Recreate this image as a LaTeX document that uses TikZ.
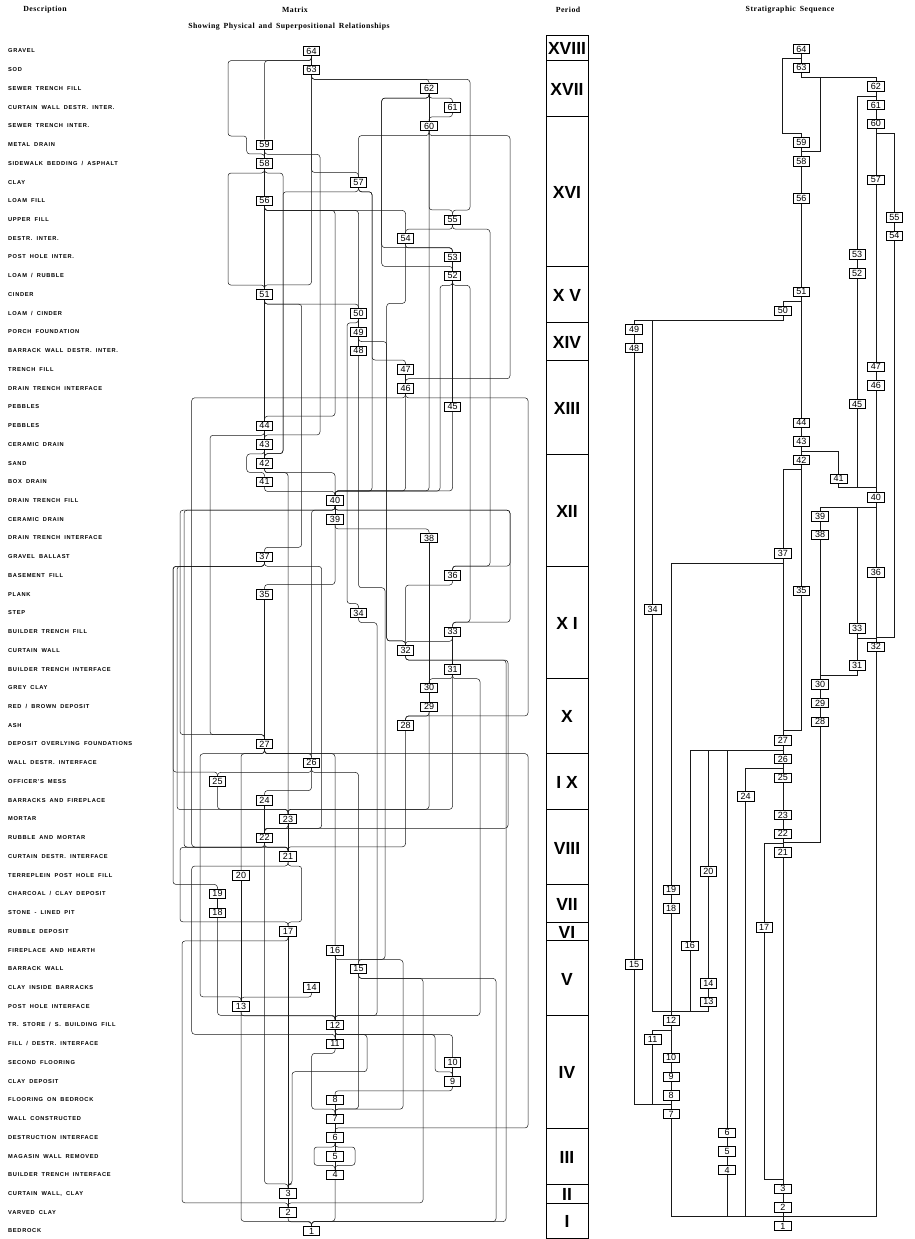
\documentclass[tikz,border=0pt]{standalone}
\usepackage{fontspec}
\setmainfont{Liberation Serif}
\newfontfamily\descfont[LetterSpace=12,WordSpace=1.8]{Liberation Sans}
\newfontfamily\numfont{Liberation Sans}
\newfontfamily\headfont[LetterSpace=6,WordSpace=2]{Liberation Serif}
\usetikzlibrary{backgrounds}

% row positions of the two panels
\def\rowm#1{(51+(64-#1)*18.73)}
\def\rows#1{(49+(64-#1)*18.683)}

% connectors: straight, into target column, down source column, via a lane, drop then lane, two lanes
\newcommand{\vedge}[3]{\draw[#1wire] (#1#2.south) -- (#1#3.north);}
\newcommand{\tedge}[3]{\draw[#1wire] (#1#2.south) -- ++(0,4.6) -| (#1#3.north);}
\newcommand{\sedge}[3]{\draw[#1wire] (#1#2.south) |- ([yshift=4.6pt]#1#3.north) -- (#1#3.north);}
\newcommand{\ledge}[4]{\draw[#1wire] (#1#2.south) -- ++(0,4.6) -| (#4,{\csname row#1\endcsname{#3}-9.4}) -| (#1#3.north);}
\newcommand{\kedge}[5]{\draw[#1wire] (#1#2.south) -- ++(0,#4) -| (#5,{\csname row#1\endcsname{#3}-9.4}) -| (#1#3.north);}
\newcommand{\jedge}[6]{\draw[#1wire] (#1#2.south) -- ++(0,4.6) -| (#4,#5) -| (#6,{\csname row#1\endcsname{#3}-9.4}) -| (#1#3.north);}

\begin{document}
\begin{tikzpicture}[
    x=1pt, y=-1pt,
    mwire/.style={line width=0.5pt, black!90, rounded corners=3pt},
    swire/.style={line width=0.55pt, black!90},
    mbox/.style={draw, line width=0.6pt, fill=white, minimum width=16.5pt, minimum height=9.5pt, inner sep=0pt, font=\numfont\fontsize{9}{9}\selectfont},
    desc/.style={anchor=west, inner sep=0pt, font=\descfont\bfseries\fontsize{5.7}{6}\selectfont},
    period/.style={inner sep=0pt, font=\numfont\bfseries\fontsize{17.5}{18}\selectfont},
    head/.style={inner sep=0pt, font=\headfont\bfseries\fontsize{7.8}{8}\selectfont}
]
    \useasboundingbox (0,0) rectangle (914,1239);

    % Headings
    \node[head] (hdesc) at (45,10) {Description};
    \node[head] (hmat) at (295,10) {Matrix};
    \node[head] (hsub) at (289,27) {Showing\enspace Physical\enspace and\enspace Superpositional\enspace Relationships};
    \node[head] (hper) at (568,10) {Period};
    \node[head] (hseq) at (790,10) {Stratigraphic\enspace Sequence};

    % Descriptions
    \foreach \n/\t in {64/{GRAVEL}, 63/{SOD}, 62/{SEWER TRENCH FILL}, 61/{CURTAIN WALL DESTR. INTER.},
        60/{SEWER TRENCH INTER.}, 59/{METAL DRAIN}, 58/{SIDEWALK BEDDING / ASPHALT}, 57/{CLAY},
        56/{LOAM FILL}, 55/{UPPER FILL}, 54/{DESTR. INTER.}, 53/{POST HOLE INTER.},
        52/{LOAM / RUBBLE}, 51/{CINDER}, 50/{LOAM / CINDER}, 49/{PORCH FOUNDATION},
        48/{BARRACK WALL DESTR. INTER.}, 47/{TRENCH FILL}, 46/{DRAIN TRENCH INTERFACE}, 45/{PEBBLES},
        44/{PEBBLES}, 43/{CERAMIC DRAIN}, 42/{SAND}, 41/{BOX DRAIN},
        40/{DRAIN TRENCH FILL}, 39/{CERAMIC DRAIN}, 38/{DRAIN TRENCH INTERFACE}, 37/{GRAVEL BALLAST},
        36/{BASEMENT FILL}, 35/{PLANK}, 34/{STEP}, 33/{BUILDER TRENCH FILL},
        32/{CURTAIN WALL}, 31/{BUILDER TRENCH INTERFACE}, 30/{GREY CLAY}, 29/{RED / BROWN DEPOSIT},
        28/{ASH}, 27/{DEPOSIT OVERLYING FOUNDATIONS}, 26/{WALL DESTR. INTERFACE}, 25/{OFFICER'S MESS},
        24/{BARRACKS AND FIREPLACE}, 23/{MORTAR}, 22/{RUBBLE AND MORTAR}, 21/{CURTAIN DESTR. INTERFACE},
        20/{TERREPLEIN POST HOLE FILL}, 19/{CHARCOAL / CLAY DEPOSIT}, 18/{STONE - LINED PIT}, 17/{RUBBLE DEPOSIT},
        16/{FIREPLACE AND HEARTH}, 15/{BARRACK WALL}, 14/{CLAY INSIDE BARRACKS}, 13/{POST HOLE INTERFACE},
        12/{TR. STORE / S. BUILDING FILL}, 11/{FILL / DESTR. INTERFACE}, 10/{SECOND FLOORING}, 9/{CLAY DEPOSIT},
        8/{FLOORING ON BEDROCK}, 7/{WALL CONSTRUCTED}, 6/{DESTRUCTION INTERFACE}, 5/{MAGASIN WALL REMOVED},
        4/{BUILDER TRENCH INTERFACE}, 3/{CURTAIN WALL, CLAY}, 2/{VARVED CLAY}, 1/{BEDROCK}}
        \node[desc] (d\n) at (8,{\rowm{\n}}) {\t};

    % Matrix boxes
    \foreach \n/\c in {64/4, 63/4, 62/9, 61/10, 60/9, 59/2, 58/2, 57/6, 56/2, 55/10, 54/8, 53/10, 52/10,
        51/2, 50/6, 49/6, 48/6, 47/8, 46/8, 45/10, 44/2, 43/2, 42/2, 41/2, 40/5, 39/5, 38/9, 37/2, 36/10,
        35/2, 34/6, 33/10, 32/8, 31/10, 30/9, 29/9, 28/8, 27/2, 26/4, 25/0, 24/2, 23/3, 22/2, 21/3, 20/1,
        19/0, 18/0, 17/3, 16/5, 15/6, 14/4, 13/1, 12/5, 11/5, 10/10, 9/10, 8/5, 7/5, 6/5, 5/5, 4/5, 3/3,
        2/3, 1/4}
        \node[mbox] (m\n) at ({217.5+23.5*\c},{\rowm{\n}}) {\n};

    % Sequence boxes
    \foreach \n/\c in {64/9, 63/9, 62/13, 61/13, 60/13, 59/9, 58/9, 57/13, 56/9, 55/14, 54/14, 53/12,
        52/12, 51/9, 50/8, 49/0, 48/0, 47/13, 46/13, 45/12, 44/9, 43/9, 42/9, 41/11, 40/13, 39/10, 38/10,
        37/8, 36/13, 35/9, 34/1, 33/12, 32/13, 31/12, 30/10, 29/10, 28/10, 27/8, 26/8, 25/8, 24/6, 23/8,
        22/8, 21/8, 20/4, 19/2, 18/2, 17/7, 16/3, 15/0, 14/4, 13/4, 12/2, 11/1, 10/2, 9/2, 8/2, 7/2, 6/5,
        5/5, 4/5, 3/8, 2/8, 1/8}
        \node[mbox] (s\n) at ({634+18.6*\c},{\rows{\n}}) {\n};

    % Period column
    \draw[line width=0.7pt] (546,35) rectangle (588,1238);
    \foreach \lab/\ya/\yb [count=\i] in {XVIII/35/60.4, XVII/60.4/116.6, XVI/116.6/266.4, {X V}/266.4/322.6,
        XIV/322.6/360, XIII/360/454, XII/454/566, {X I}/566/678, X/678/753, {I X}/753/809.5,
        VIII/809.5/884.5, VII/884.5/922, VI/922/940.6, V/940.6/1015.5, IV/1015.5/1128,
        III/1128/1184, II/1184/1203, I/1203/1238}
    {
        \draw[line width=0.6pt] (546,\yb) -- (588,\yb);
        \node[period] (per\i) at (567,{(\ya+\yb)/2+1}) {\lab};
    }

    \begin{scope}[on background layer]
    % Matrix connectors
    \vedge{m}{64}{63}
    \tedge{m}{64}{59}
    \jedge{m}{64}{58}{228}{136}{246.7}
    \tedge{m}{63}{62}
    \ledge{m}{63}{55}{470}
    \sedge{m}{63}{57}
    \sedge{m}{63}{51}
    \tedge{m}{62}{61}
    \vedge{m}{62}{60}
    \tedge{m}{61}{60}
    \ledge{m}{62}{53}{381.7}
    \ledge{m}{62}{52}{381.7}
    \tedge{m}{60}{57}
    \sedge{m}{60}{55}
    \ledge{m}{60}{46}{510}
    \sedge{m}{60}{40}
    \vedge{m}{59}{58}
    \ledge{m}{59}{43}{320}
    \vedge{m}{58}{56}
    \ledge{m}{58}{51}{228}
    \ledge{m}{58}{42}{283}
    \ledge{m}{57}{47}{372}
    \ledge{m}{57}{40}{372}
    \ledge{m}{57}{42}{283}
    \vedge{m}{56}{51}
    \tedge{m}{56}{54}
    \ledge{m}{56}{44}{335}
    \tedge{m}{56}{50}
    \tedge{m}{55}{54}
    \ledge{m}{55}{36}{490}
    \tedge{m}{54}{53}
    \kedge{m}{54}{32}{60}{386.7}
    \vedge{m}{53}{52}
    \vedge{m}{52}{45}
    \ledge{m}{52}{40}{440}
    \ledge{m}{52}{33}{470}
    \vedge{m}{51}{44}
    \tedge{m}{51}{50}
    \ledge{m}{51}{37}{301.7}
    \vedge{m}{50}{49}
    \ledge{m}{50}{34}{347}
    \vedge{m}{49}{48}
    \ledge{m}{49}{32}{386.7}
    \kedge{m}{48}{15}{232}{385}
    \vedge{m}{47}{46}
    \sedge{m}{46}{40}
    \ledge{m}{46}{21}{191.7}
    \ledge{m}{46}{28}{528}
    \sedge{m}{45}{40}
    \vedge{m}{44}{43}
    \ledge{m}{44}{27}{210}
    \vedge{m}{43}{42}
    \ledge{m}{43}{41}{246.7}
    \tedge{m}{42}{40}
    \tedge{m}{42}{23}
    \tedge{m}{41}{40}
    \vedge{m}{40}{39}
    \ledge{m}{40}{27}{180}
    \ledge{m}{40}{21}{184}
    \tedge{m}{40}{26}
    \ledge{m}{40}{36}{510}
    \ledge{m}{40}{33}{510}
    \tedge{m}{39}{38}
    \sedge{m}{39}{35}
    \vedge{m}{38}{30}
    \ledge{m}{37}{25}{173}
    \ledge{m}{37}{19}{173}
    \ledge{m}{37}{23}{177}
    \ledge{m}{37}{22}{321.7}
    \tedge{m}{36}{32}
    \vedge{m}{35}{27}
    \ledge{m}{34}{12}{377}
    \tedge{m}{33}{32}
    \vedge{m}{33}{31}
    \ledge{m}{32}{22}{508}
    \ledge{m}{32}{1}{506}
    \tedge{m}{31}{30}
    \sedge{m}{31}{23}
    \ledge{m}{31}{12}{480}
    \vedge{m}{30}{29}
    \tedge{m}{29}{28}
    \sedge{m}{29}{23}
    \sedge{m}{28}{21}
    \tedge{m}{27}{26}
    \ledge{m}{27}{13}{200}
    \tedge{m}{27}{20}
    \tedge{m}{27}{16}
    \ledge{m}{27}{6}{528}
    \tedge{m}{26}{25}
    \sedge{m}{26}{24}
    \tedge{m}{26}{15}
    \sedge{m}{25}{23}
    \vedge{m}{24}{22}
    \tedge{m}{23}{22}
    \vedge{m}{23}{21}
    \tedge{m}{22}{21}
    \ledge{m}{22}{17}{180}
    \sedge{m}{22}{3}
    \ledge{m}{21}{17}{301.7}
    \ledge{m}{21}{11}{191.7}
    \vedge{m}{20}{13}
    \vedge{m}{19}{18}
    \sedge{m}{18}{12}
    \vedge{m}{17}{3}
    \ledge{m}{17}{2}{182}
    \vedge{m}{16}{12}
    \ledge{m}{16}{7}{403}
    \sedge{m}{15}{7}
    \ledge{m}{15}{2}{423}
    \ledge{m}{15}{1}{496}
    \tedge{m}{14}{13}
    \tedge{m}{13}{12}
    \sedge{m}{13}{1}
    \vedge{m}{12}{11}
    \tedge{m}{12}{10}
    \ledge{m}{12}{9}{435}
    \jedge{m}{12}{3}{367}{1071.7}{292}
    \ledge{m}{11}{7}{311.7}
    \vedge{m}{10}{9}
    \tedge{m}{9}{8}
    \vedge{m}{8}{7}
    \vedge{m}{7}{6}
    \vedge{m}{6}{5}
    \ledge{m}{6}{4}{314}
    \ledge{m}{6}{4}{355}
    \vedge{m}{5}{4}
    \sedge{m}{4}{1}
    \vedge{m}{3}{2}
    \tedge{m}{2}{1}

    % Sequence connectors
    \vedge{s}{64}{63}
    \ledge{s}{64}{59}{782}
    \tedge{s}{63}{62}
    \ledge{s}{63}{58}{820}
    \vedge{s}{62}{61}
    \vedge{s}{61}{60}
    \tedge{s}{62}{53}
    \vedge{s}{60}{57}
    \tedge{s}{60}{55}
    \vedge{s}{59}{58}
    \vedge{s}{58}{56}
    \vedge{s}{57}{47}
    \vedge{s}{55}{54}
    \sedge{s}{54}{32}
    \vedge{s}{53}{52}
    \vedge{s}{52}{45}
    \vedge{s}{56}{51}
    \vedge{s}{51}{44}
    \tedge{s}{51}{50}
    \tedge{s}{50}{49}
    \tedge{s}{50}{34}
    \vedge{s}{49}{48}
    \vedge{s}{48}{15}
    \vedge{s}{47}{46}
    \vedge{s}{46}{40}
    \sedge{s}{45}{40}
    \sedge{s}{41}{40}
    \vedge{s}{44}{43}
    \vedge{s}{43}{42}
    \tedge{s}{43}{41}
    \tedge{s}{42}{37}
    \vedge{s}{42}{35}
    \tedge{s}{40}{39}
    \tedge{s}{40}{33}
    \vedge{s}{40}{36}
    \vedge{s}{36}{32}
    \vedge{s}{39}{38}
    \vedge{s}{38}{30}
    \vedge{s}{37}{27}
    \tedge{s}{37}{19}
    \sedge{s}{35}{27}
    \sedge{s}{34}{12}
    \tedge{s}{33}{32}
    \vedge{s}{33}{31}
    \sedge{s}{32}{1}
    \tedge{s}{31}{30}
    \vedge{s}{30}{29}
    \vedge{s}{29}{28}
    \sedge{s}{28}{21}
    \vedge{s}{27}{26}
    \tedge{s}{27}{16}
    \tedge{s}{27}{20}
    \tedge{s}{27}{6}
    \vedge{s}{26}{25}
    \tedge{s}{26}{24}
    \sedge{s}{24}{1}
    \vedge{s}{25}{23}
    \vedge{s}{23}{22}
    \vedge{s}{22}{21}
    \tedge{s}{22}{17}
    \vedge{s}{21}{3}
    \sedge{s}{17}{3}
    \vedge{s}{20}{14}
    \vedge{s}{14}{13}
    \tedge{s}{13}{12}
    \sedge{s}{16}{12}
    \vedge{s}{19}{18}
    \vedge{s}{18}{12}
    \sedge{s}{15}{7}
    \sedge{s}{11}{7}
    \tedge{s}{12}{11}
    \vedge{s}{12}{10}
    \vedge{s}{10}{9}
    \vedge{s}{9}{8}
    \vedge{s}{8}{7}
    \sedge{s}{7}{1}
    \vedge{s}{6}{5}
    \vedge{s}{5}{4}
    \sedge{s}{4}{1}
    \vedge{s}{3}{2}
    \vedge{s}{2}{1}
    \end{scope}
\end{tikzpicture}
\end{document}
